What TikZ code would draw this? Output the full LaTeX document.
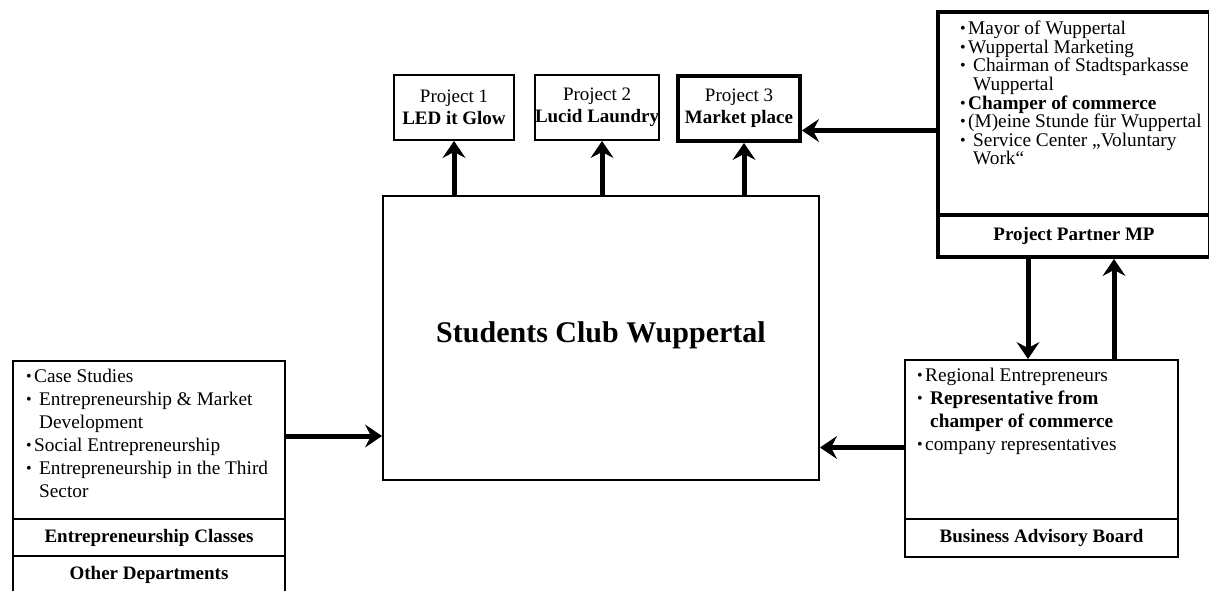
\documentclass[tikz,border=0pt]{standalone}
\usepackage{fontspec}
\setmainfont{Liberation Serif}
\usetikzlibrary{arrows.meta,positioning}
\newcommand\bl{\makebox[8pt][l]{\raisebox{1pt}{\fontsize{16}{16}\selectfont\textbullet}}}
\newcommand\bls{\makebox[13pt][l]{\raisebox{1pt}{\fontsize{16}{16}\selectfont\textbullet}}}
\newcommand\ind{\hspace*{13pt}}
\tikzset{
  blk/.style={draw,line width=2pt,inner sep=0pt,anchor=north west,align=center},
  thk/.style={blk,line width=4pt},
  lbl/.style={font=\fontsize{19}{22}\selectfont\bfseries},
  prj/.style={blk,minimum width=120pt,minimum height=65pt,font=\fontsize{19}{22}\selectfont},
  lst/.style={anchor=north west,inner sep=0pt,align=left},
  ar/.style={-{Stealth[length=17pt,width=23pt,inset=6pt,line width=1pt]},line width=5pt}
}
\begin{document}
\begin{tikzpicture}[x=1pt,y=-1pt]
\useasboundingbox (0,0) rectangle (1209,590);
\node[prj] (prj1) at (393,74) {Project 1\\\textbf{LED it Glow}};
\node[prj] (prj2) at (534,74) {Project 2\\\textbf{Lucid Laundry}};
\node[prj,line width=4pt,minimum width=122pt] (prj3) at (676,74) {Project 3\\\textbf{Market place}};
\node[blk,minimum width=436pt,minimum height=284pt,font=\fontsize{30}{36}\selectfont\bfseries] (club) at (382,195) {Students Club Wuppertal\\[-24pt]};

\node[thk,minimum width=272pt,minimum height=203pt] (partner) at (936,10) {};
\node[thk,lbl,minimum width=272pt,minimum height=42pt] (partnerlbl) at (936,213) {Project Partner MP};
\node[lst,font=\fontsize{19.3}{18.6}\selectfont] (partnertxt) at (960,21) {\bl Mayor of Wuppertal\\\bl Wuppertal Marketing\\\bls Chairman of Stadtsparkasse\\\ind Wuppertal\\\bl\textbf{Champer of commerce}\\\bl(M)eine Stunde für Wuppertal\\\bls Service Center „Voluntary\\\ind Work“};

\node[blk,minimum width=273pt,minimum height=159pt] (board) at (904,359) {};
\node[blk,lbl,minimum width=273pt,minimum height=38pt] (boardlbl) at (904,518) {Business Advisory Board};
\node[lst,font=\fontsize{19.3}{23}\selectfont] (boardtxt) at (917,368) {\bl Regional Entrepreneurs\\\bls\textbf{Representative from}\\\ind\textbf{champer of commerce}\\\bl company representatives};

\node[blk,minimum width=272pt,minimum height=158pt] (classes) at (12,360) {};
\node[blk,lbl,minimum width=272pt,minimum height=37pt] (classeslbl) at (12,518) {Entrepreneurship Classes};
\node[blk,lbl,minimum width=272pt,minimum height=37pt] (deptlbl) at (12,555) {Other Departments};
\node[lst,font=\fontsize{19.3}{23}\selectfont] (classestxt) at (26,369) {\bl Case Studies\\\bls Entrepreneurship \& Market\\\ind Development\\\bl Social Entrepreneurship\\\bls Entrepreneurship in the Third\\\ind Sector};

\draw[ar] (prj1.south |- club.north) -- (prj1.south);
\draw[ar] ([xshift=5pt]prj2.south |- club.north) -- ([xshift=5pt]prj2.south);
\draw[ar] ([xshift=5pt]prj3.south |- club.north) -- ([xshift=5pt]prj3.south);
\draw[ar] ([yshift=-22pt]prj3.east -| partner.west) -- ([yshift=-22pt]prj3.east);
\draw[ar] ([xshift=-46pt]partnerlbl.south) -- ([xshift=-46pt]partnerlbl.south |- board.north);
\draw[ar] ([xshift=40pt]partnerlbl.south |- board.north) -- ([xshift=40pt]partnerlbl.south);
\draw[ar] ([yshift=-8pt]board.west) -- ([yshift=-8pt]board.west -| club.east);
\draw[ar] ([yshift=4pt]classes.east) -- ([yshift=4pt]classes.east -| club.west);
\end{tikzpicture}
\end{document}
